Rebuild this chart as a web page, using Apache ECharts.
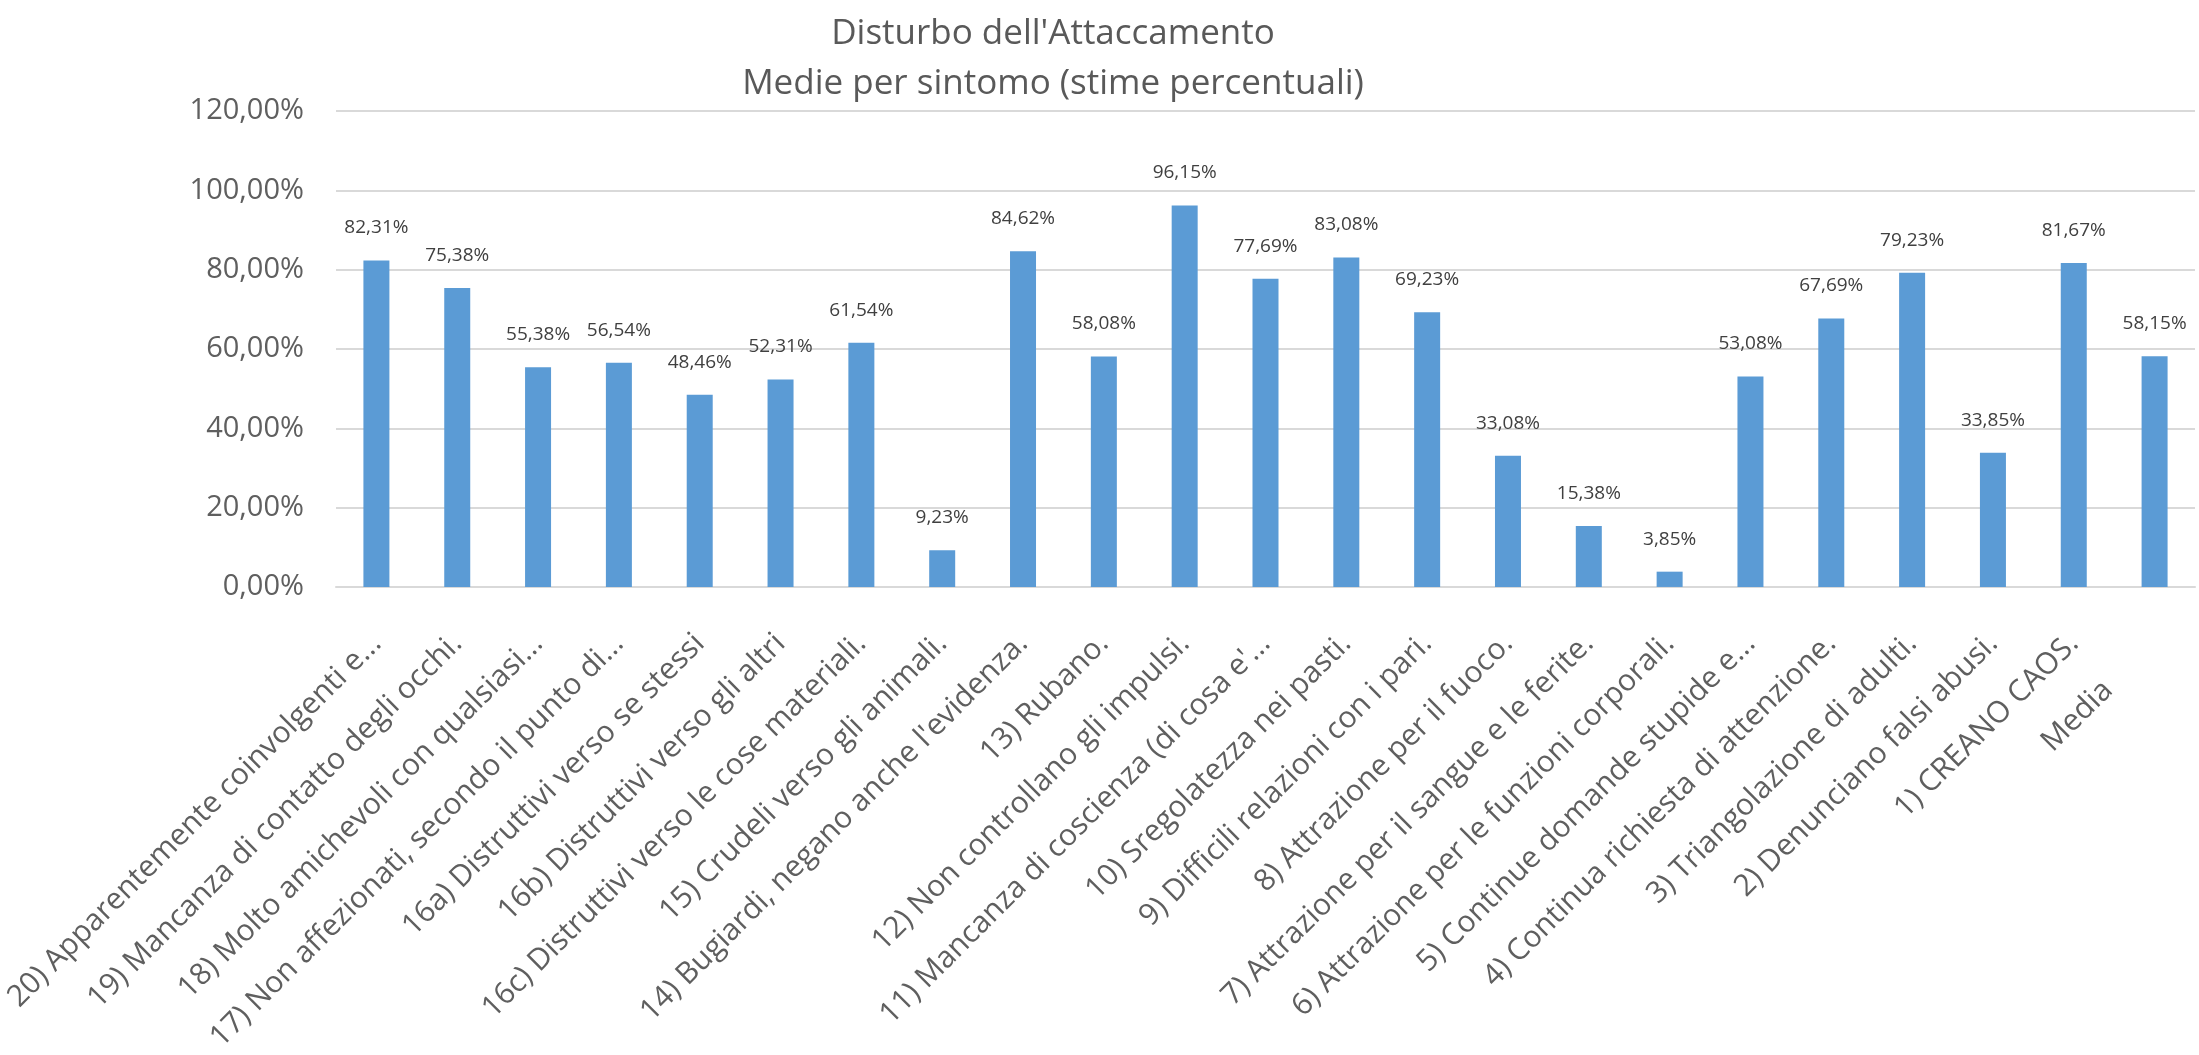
<!DOCTYPE html>
<html><head><meta charset="utf-8">
<script src="https://cdn.jsdelivr.net/npm/echarts@6/dist/echarts.min.js"></script>
<style>html,body{margin:0;padding:0;background:#fff}#c{width:2199px;height:1055px}</style>
</head><body><div id="c"></div>
<script>
const titleLines = ["Disturbo dell'Attaccamento", "Medie per sintomo (stime percentuali)"];
const categories = [
  "20) Apparentemente coinvolgenti e...",
  "19) Mancanza di contatto degli occhi.",
  "18) Molto amichevoli con qualsiasi...",
  "17) Non affezionati, secondo il punto di...",
  "16a) Distruttivi verso se stessi",
  "16b) Distruttivi verso gli altri",
  "16c) Distruttivi verso le cose materiali.",
  "15) Crudeli verso gli animali.",
  "14) Bugiardi, negano anche l'evidenza.",
  "13) Rubano.",
  "12) Non controllano gli impulsi.",
  "11) Mancanza di coscienza (di cosa e'...",
  "10) Sregolatezza nei pasti.",
  "9) Difficili relazioni con i pari.",
  "8) Attrazione per il fuoco.",
  "7) Attrazione per il sangue e le ferite.",
  "6) Attrazione per le funzioni corporali.",
  "5) Continue domande stupide e...",
  "4) Continua richiesta di attenzione.",
  "3) Triangolazione di adulti.",
  "2) Denunciano falsi abusi.",
  "1) CREANO CAOS.",
  "Media"
];
const values = [82.31, 75.38, 55.38, 56.54, 48.46, 52.31, 61.54, 9.23, 84.62, 58.08, 96.15, 77.69, 83.08, 69.23, 33.08, 15.38, 3.85, 53.08, 67.69, 79.23, 33.85, 81.67, 58.15];
const yMin = 0, yMax = 120, yInterval = 20;

const fmt = v => Number(v).toFixed(2).replace('.', ',') + '%';
const FONT = '"Open Sans", "Noto Sans", sans-serif';

const chart = echarts.init(document.getElementById('c'), null, {renderer: 'canvas'});
chart.setOption({
  backgroundColor: '#ffffff',
  animation: false,
  title: {
    text: titleLines.join('\n'),
    left: 1048,
    top: 4,
    textAlign: 'center',
    textStyle: {fontFamily: FONT, fontSize: 35, fontWeight: 'normal', color: '#595959', lineHeight: 50}
  },
  grid: {left: 336, right: 4, top: 111, bottom: 450},
  xAxis: {
    type: 'category',
    data: categories.map(c => c === 'Media'
      ? {value: c, textStyle: {padding: [0, 66, 0, 0]}}
      : c),
    axisTick: {show: false},
    axisLine: {lineStyle: {color: '#d9d9d9', width: 2}},
    axisLabel: {
      interval: 0, rotate: 45, margin: 52,
      fontFamily: FONT, fontSize: 30, color: '#5f5f5f'
    }
  },
  yAxis: {
    type: 'value',
    min: yMin, max: yMax, interval: yInterval,
    axisLine: {show: false},
    axisTick: {show: false},
    splitLine: {lineStyle: {color: '#d9d9d9', width: 2}},
    axisLabel: {
      formatter: fmt, margin: 32,
      fontFamily: FONT, fontSize: 29, color: '#5f5f5f'
    }
  },
  series: [{
    type: 'bar',
    data: values,
    barWidth: 26,
    itemStyle: {color: '#5B9BD5'},
    label: {
      show: true, position: 'top', distance: 23,
      formatter: p => fmt(p.value),
      fontFamily: FONT, fontSize: 19, color: '#404040'
    }
  }]
});
</script>
</body></html>
